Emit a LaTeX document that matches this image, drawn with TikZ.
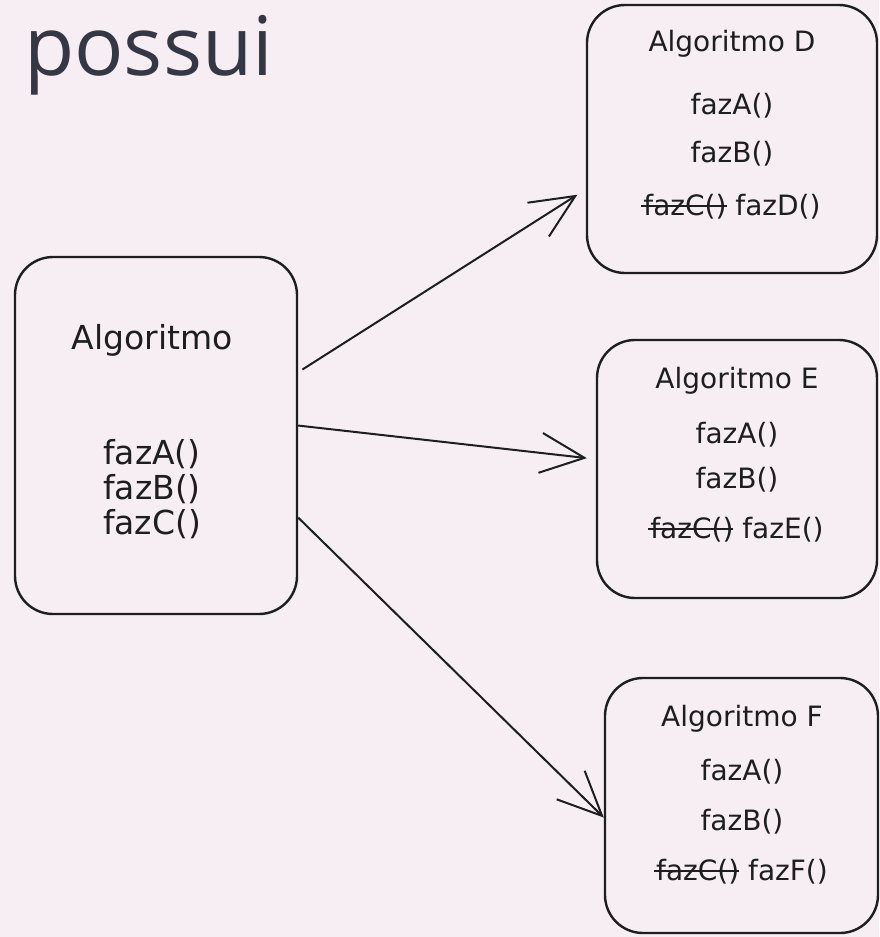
\documentclass[tikz,border=0pt]{standalone}
\usepackage{fontspec}
\setmainfont{DejaVu Sans}
\newfontfamily\titulofont{Open Sans}
\usetikzlibrary{arrows.meta, positioning}
\definecolor{fundo}{HTML}{F7EEF3}
\definecolor{tinta}{HTML}{1E1E1E}
\definecolor{cinzatitulo}{HTML}{343844}
\newcommand{\riscar}[1]{\setbox0\hbox{#1}\rlap{\kern-2pt\rule[0.32em]{\dimexpr\wd0+2pt\relax}{1.8pt}}\box0\relax}
\tikzset {
    x=1pt, y=-1pt,
    seta/.style={-{Straight Barb[length=44pt, width=40pt]}, line width=2pt, draw=tinta},
    caixa/.style={draw=tinta, line width=2.4pt, rounded corners=38pt, inner sep=0pt},
    texto/.style={text=tinta, align=center, inner sep=0pt}
}

\begin{document}
\begin{tikzpicture}
    \useasboundingbox (0,0) rectangle (879,937);
    \fill[fundo] (0,0) rectangle (879,937);

    \node[anchor=base west, inner sep=0pt, text=cinzatitulo, font=\titulofont\fontsize{82}{82}\selectfont] (titulo) at (24,75) {possui};

    % caixas
    \node[caixa, minimum width=282pt, minimum height=357pt] (alg) at (156,435.5) {};
    \node[caixa, minimum width=290pt, minimum height=268pt] (algD) at (732,139) {};
    \node[caixa, minimum width=280pt, minimum height=258pt] (algE) at (737,469) {};
    \node[caixa, minimum width=273pt, minimum height=255pt] (algF) at (741.5,805.5) {};

    % textos
    \node[texto, font=\fontsize{33}{35}\selectfont] (tAlg) at (152,432) {Algoritmo\\[80pt]fazA()\\fazB()\\fazC()};
    \node[texto, font=\fontsize{28}{48}\selectfont] (tD) at (732,125) {Algoritmo D\\[15pt]fazA()\\fazB()\\[5pt]\riscar{fazC()} fazD()};
    \node[texto, font=\fontsize{28}{47}\selectfont] (tE) at (737,455) {Algoritmo E\\[8pt]fazA()\\[-2pt]fazB()\\[3pt]\riscar{fazC()} fazE()};
    \node[texto, font=\fontsize{28}{50}\selectfont] (tF) at (742,795) {Algoritmo F\\[4pt]fazA()\\fazB()\\\riscar{fazC()} fazF()};

    \draw
    (alg.24) edge[seta, shorten <=5pt, shorten >=10pt] (algD.199)
    (alg.4) edge[seta, shorten >=9pt] (algE.176)
    (alg.330) edge[seta] (algF.185);
\end{tikzpicture}
\end{document}
